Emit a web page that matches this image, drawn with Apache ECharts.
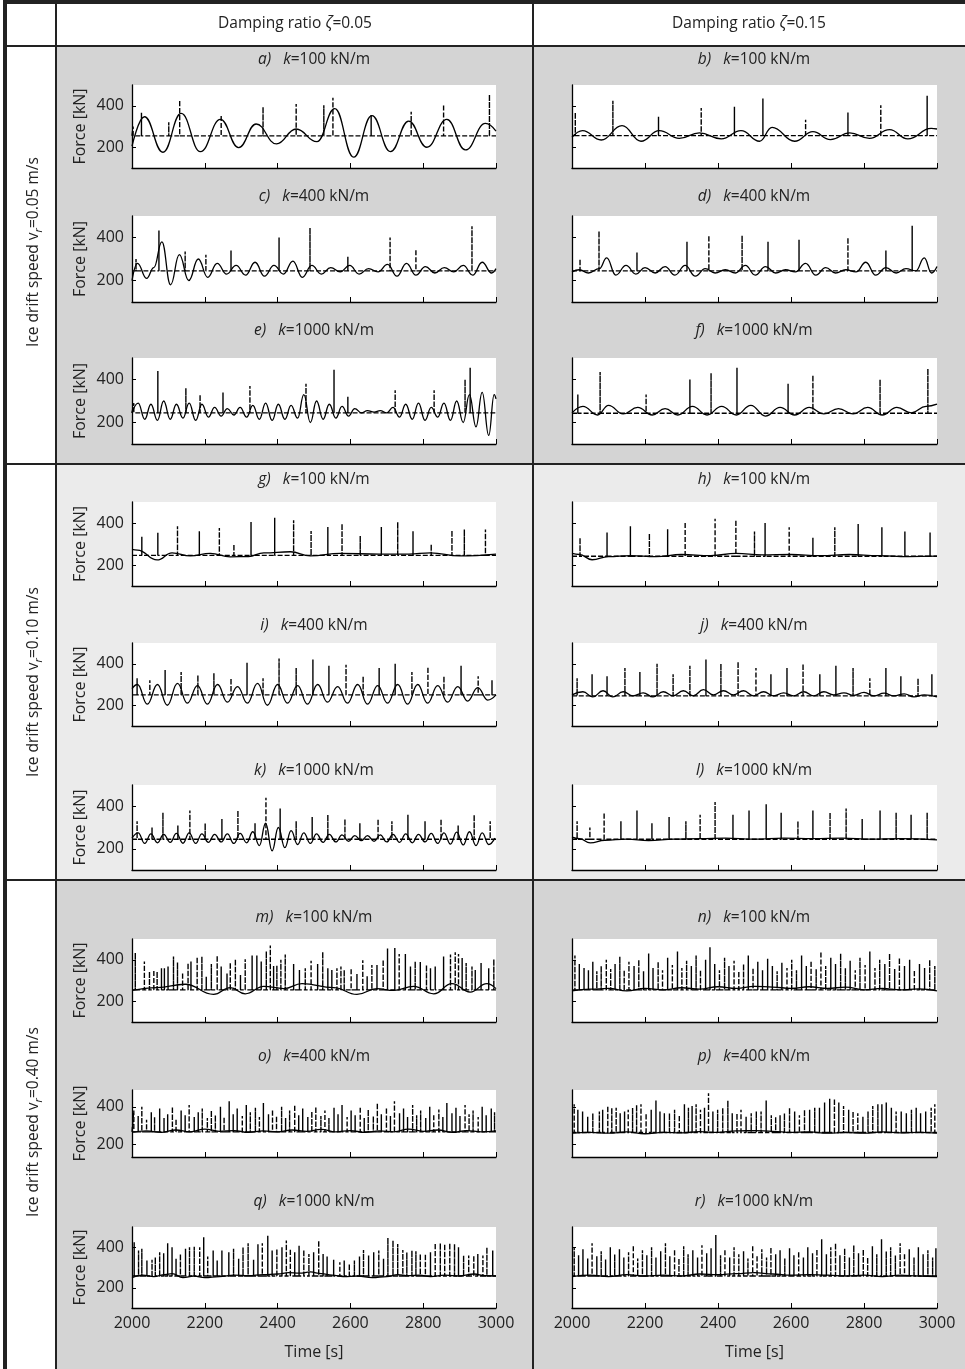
<!DOCTYPE html>
<html>
<head>
<meta charset="utf-8">
<script src="https://cdn.jsdelivr.net/npm/echarts@6/dist/echarts.min.js"></script>
<style>
html, body { margin: 0; padding: 0; background: #fff; }
#chart { width: 965px; height: 1369px; }
</style>
</head>
<body>
<div id="chart"></div>
<script>
// ---- data: [time s, force kN] ----
var xTicks = [2000, 2200, 2400, 2600, 2800, 3000];
var yTicks = [200, 400];
var stiffness = [100, 400, 1000];
var damping = ['0.05', '0.15'];
var drift = ['0.05', '0.10', '0.40'];

// row v=0.05
var solidA = [[2000,205],[2034,347],[2085,176],[2135,363],[2188,179],[2243,334],[2293,198],[2341,312],[2397,216],[2451,288],[2508,227],[2557,386],[2609,152],[2659,352],[2710,179],[2760,326],[2810,200],[2865,334],[2916,187],[2971,315],[3000,278]];
var spikeA = [[2003,300],[2026,366],[2101,320],[2131,427],[2245,355],[2360,395],[2451,408],[2527,403],[2552,438],[2657,355],[2767,371],[2856,406],[2982,454]];
var baseA = 255;
var solidB = [[2000,248],[2029,280],[2080,235],[2137,304],[2189,229],[2239,280],[2294,243],[2349,269],[2409,240],[2463,280],[2514,229],[2548,296],[2610,229],[2660,275],[2708,237],[2761,269],[2815,243],[2870,285],[2920,240],[2984,291],[3000,288]];
var spikeB = [[2009,368],[2112,424],[2237,347],[2354,389],[2445,395],[2523,435],[2640,333],[2756,368],[2846,402],[2973,448]];
var baseB = 256;
var solidC = [[2000,200],[2015,280],[2040,210],[2060,260],[2082,380],[2106,180],[2130,320],[2156,200],[2182,300],[2208,215],[2234,280],[2260,230],[2286,270],[2312,225],[2338,285],[2364,220],[2390,270],[2416,230],[2442,290],[2468,215],[2494,270],[2520,230],[2546,260],[2572,240],[2598,270],[2624,230],[2650,255],[2676,240],[2702,275],[2728,220],[2754,280],[2780,225],[2806,265],[2832,235],[2858,260],[2884,240],[2910,270],[2936,225],[2962,285],[2988,235],[3000,255]];
var spikeC = [[2011,300],[2074,433],[2146,335],[2203,320],[2272,340],[2404,400],[2489,445],[2593,310],[2709,400],[2780,345],[2934,452]];
var baseC = 245;
var solidD = [[2000,240],[2020,250],[2045,235],[2075,255],[2095,305],[2120,225],[2148,270],[2175,230],[2200,260],[2228,235],[2255,265],[2282,225],[2310,270],[2338,220],[2365,255],[2392,235],[2420,250],[2448,235],[2475,270],[2502,225],[2530,265],[2558,235],[2585,250],[2612,240],[2640,280],[2668,225],[2695,260],[2722,235],[2750,250],[2778,240],[2805,285],[2832,225],[2860,260],[2888,235],[2915,255],[2942,245],[2965,305],[2985,235],[3000,265]];
var spikeD = [[2022,300],[2074,430],[2178,330],[2315,380],[2375,410],[2466,410],[2537,380],[2622,390],[2756,400],[2860,340],[2932,455]];
var baseD = 245;
var solidE = [[2000,245],[2017,290],[2035,215],[2052,285],[2070,210],[2087,300],[2105,215],[2122,285],[2140,220],[2157,290],[2175,210],[2192,285],[2210,225],[2227,270],[2245,230],[2262,265],[2280,235],[2297,270],[2315,225],[2332,280],[2350,215],[2367,290],[2385,210],[2402,285],[2420,215],[2437,280],[2455,220],[2472,330],[2490,200],[2507,300],[2525,215],[2542,285],[2560,220],[2577,275],[2595,230],[2612,265],[2630,245],[2647,255],[2665,248],[2682,255],[2700,245],[2717,270],[2735,225],[2752,285],[2770,215],[2787,290],[2805,210],[2822,270],[2840,225],[2857,290],[2875,210],[2892,300],[2910,200],[2927,330],[2945,180],[2962,340],[2980,140],[2995,330],[3000,310]];
var spikeE = [[2005,290],[2071,440],[2148,360],[2187,330],[2250,340],[2324,370],[2478,380],[2555,445],[2593,320],[2723,350],[2830,350],[2915,400],[2929,455]];
var baseE = 245;
var solidF = [[2000,245],[2030,275],[2070,235],[2100,280],[2140,240],[2180,270],[2220,235],[2255,265],[2290,235],[2330,275],[2370,235],[2410,275],[2450,235],[2490,280],[2530,230],[2570,270],[2610,235],[2650,270],[2690,240],[2730,265],[2770,240],[2810,270],[2850,235],[2890,270],[2930,245],[2970,275],[3000,285]];
var spikeF = [[2016,330],[2077,435],[2203,330],[2323,400],[2381,430],[2452,455],[2592,380],[2660,420],[2844,400],[2975,450]];
var baseF = 243;

// row v=0.10
var solidG = [[2000,274],[2015,271],[2069,224],[2110,258],[2160,243],[2215,255],[2270,239],[2320,240],[2362,258],[2435,263],[2490,243],[2572,255],[2680,252],[2760,252],[2820,258],[2900,243],[3000,252]];
var spikeG = [[2027,334],[2071,354],[2125,384],[2185,361],[2240,376],[2280,299],[2327,405],[2392,425],[2444,413],[2492,362],[2538,381],[2577,397],[2627,339],[2685,381],[2730,405],[2772,361],[2822,299],[2879,365],[2913,370],[2971,369]];
var baseG = 246;
var solidH = [[2000,255],[2020,250],[2055,225],[2100,240],[2160,245],[2230,240],[2300,250],[2380,245],[2450,255],[2520,248],[2600,250],[2680,245],[2760,250],[2840,245],[2920,240],[3000,242]];
var spikeH = [[2022,330],[2096,355],[2160,385],[2212,350],[2262,370],[2310,405],[2392,420],[2449,415],[2500,360],[2529,400],[2595,380],[2660,330],[2720,380],[2784,395],[2849,380],[2912,360],[2981,355]];
var baseH = 242;
var solidI = [[2000,280],[2015,300],[2042,205],[2070,300],[2097,200],[2125,305],[2152,210],[2180,295],[2207,205],[2235,300],[2262,215],[2290,290],[2317,210],[2345,305],[2372,200],[2400,300],[2427,210],[2455,295],[2482,205],[2510,300],[2537,215],[2565,290],[2592,210],[2620,300],[2647,205],[2675,295],[2702,210],[2730,300],[2757,205],[2785,300],[2812,210],[2840,295],[2867,215],[2895,290],[2922,220],[2950,285],[2977,225],[3000,250]];
var spikeI = [[2014,330],[2049,320],[2091,370],[2135,360],[2181,345],[2225,355],[2272,330],[2316,405],[2360,330],[2404,425],[2451,380],[2497,420],[2541,390],[2588,395],[2635,340],[2679,380],[2723,400],[2769,360],[2813,385],[2857,340],[2904,390],[2951,340],[2989,320]];
var baseI = 250;
var solidJ = [[2000,250],[2030,265],[2057,240],[2085,270],[2112,240],[2140,265],[2167,245],[2195,260],[2222,240],[2250,265],[2277,245],[2305,270],[2332,245],[2360,275],[2387,250],[2415,270],[2442,250],[2470,270],[2497,245],[2525,265],[2552,245],[2580,260],[2607,245],[2635,265],[2662,245],[2690,265],[2717,250],[2745,260],[2772,248],[2800,262],[2827,245],[2855,258],[2882,245],[2910,255],[2937,240],[2965,250],[3000,240]];
var spikeJ = [[2014,330],[2055,350],[2096,340],[2145,380],[2186,360],[2233,400],[2277,350],[2323,390],[2367,420],[2408,400],[2455,410],[2504,380],[2545,350],[2589,380],[2633,400],[2679,350],[2723,390],[2770,380],[2816,330],[2860,380],[2901,340],[2948,330],[2986,350]];
var baseJ = 245;
var solidK = [[2000,250],[2017,275],[2035,225],[2052,270],[2070,228],[2087,268],[2105,230],[2122,272],[2140,226],[2157,275],[2175,225],[2192,270],[2210,230],[2227,268],[2245,232],[2262,270],[2280,225],[2297,272],[2315,228],[2332,280],[2350,215],[2367,320],[2385,190],[2402,300],[2420,205],[2437,285],[2455,220],[2472,275],[2490,225],[2507,270],[2525,230],[2542,268],[2560,232],[2577,265],[2595,235],[2612,262],[2630,238],[2647,262],[2665,235],[2682,265],[2700,232],[2717,268],[2735,230],[2752,270],[2770,228],[2787,268],[2805,232],[2822,272],[2840,225],[2857,275],[2875,222],[2892,278],[2910,218],[2927,280],[2945,215],[2962,275],[2980,220],[2997,250]];
var spikeK = [[2014,330],[2055,300],[2085,370],[2126,310],[2159,380],[2201,320],[2247,340],[2291,380],[2338,320],[2368,440],[2407,390],[2451,330],[2495,350],[2538,360],[2585,340],[2626,320],[2676,340],[2714,330],[2758,360],[2805,330],[2849,340],[2896,310],[2940,360],[2984,330]];
var baseK = 245;
var solidL = [[2000,255],[2020,248],[2050,228],[2090,240],[2150,245],[2210,238],[2280,245],[2350,248],[2420,250],[2500,245],[2580,250],[2660,248],[2740,250],[2820,245],[2900,248],[3000,242]];
var spikeL = [[2014,330],[2049,300],[2088,370],[2134,330],[2178,380],[2219,320],[2266,350],[2312,330],[2351,360],[2392,420],[2441,360],[2485,380],[2532,410],[2573,370],[2619,330],[2660,380],[2707,370],[2751,390],[2795,340],[2844,380],[2888,370],[2929,360],[2973,370]];
var baseL = 245;

// row v=0.40
var solidM = [[2000,252],[2069,266],[2146,282],[2224,233],[2270,266],[2311,236],[2362,272],[2417,261],[2467,285],[2554,266],[2618,233],[2673,261],[2719,252],[2774,272],[2829,236],[2879,285],[2929,244],[2975,285],[3000,261]];
var spikeM = [[2009,433],[2034,392],[2048,343],[2060,351],[2069,343],[2081,359],[2089,359],[2099,367],[2114,416],[2125,387],[2139,338],[2154,384],[2162,392],[2179,413],[2192,416],[2204,318],[2218,379],[2234,420],[2245,367],[2261,334],[2270,387],[2284,403],[2298,326],[2311,403],[2330,420],[2343,421],[2355,392],[2369,441],[2380,469],[2389,370],[2398,372],[2409,400],[2421,425],[2444,379],[2460,351],[2476,359],[2492,395],[2510,379],[2524,438],[2538,359],[2549,351],[2563,359],[2574,367],[2583,351],[2602,359],[2618,331],[2634,397],[2646,321],[2659,375],[2673,375],[2690,400],[2702,454],[2722,457],[2734,428],[2751,428],[2765,367],[2778,392],[2792,389],[2809,375],[2820,359],[2833,367],[2856,416],[2875,425],[2888,436],[2897,428],[2907,408],[2918,384],[2934,367],[2943,351],[2959,384],[2980,359],[2994,403]];
var baseM = 255;
var solidN = [[2000,250],[2050,258],[2100,262],[2150,250],[2200,262],[2250,255],[2300,265],[2350,258],[2400,270],[2450,262],[2500,272],[2550,268],[2600,262],[2650,270],[2700,262],[2750,268],[2800,255],[2850,262],[2900,255],[2950,260],[3000,250]];
var spikeN = [[2008,420],[2020,380],[2033,360],[2045,350],[2057,390],[2068,345],[2080,370],[2094,400],[2106,355],[2118,380],[2131,415],[2143,350],[2156,390],[2170,370],[2183,400],[2196,345],[2210,430],[2222,360],[2236,390],[2248,350],[2262,410],[2275,375],[2289,440],[2301,360],[2314,395],[2327,370],[2340,420],[2352,350],[2366,400],[2378,460],[2391,380],[2404,350],[2418,410],[2430,370],[2444,395],[2457,345],[2470,380],[2483,420],[2496,360],[2509,390],[2522,350],[2536,405],[2549,370],[2562,345],[2575,385],[2589,360],[2602,400],[2615,350],[2629,420],[2642,370],[2655,395],[2669,355],[2682,440],[2695,370],[2709,410],[2722,380],[2736,430],[2749,360],[2762,395],[2776,350],[2789,410],[2803,375],[2816,440],[2830,360],[2843,400],[2857,380],[2870,430],[2884,355],[2897,410],[2911,370],[2925,400],[2938,350],[2952,380],[2966,360],[2980,400],[2994,370]];
var baseN = 255;
var solidO = [[2000,262],[2040,270],[2080,262],[2120,275],[2160,265],[2200,280],[2240,268],[2280,272],[2320,262],[2360,270],[2400,265],[2440,275],[2480,268],[2520,278],[2560,265],[2600,272],[2640,262],[2680,270],[2720,265],[2760,280],[2800,268],[2840,275],[2880,262],[2920,272],[2960,265],[3000,270]];
var spikeO = [[2005,380],[2017,350],[2027,400],[2040,330],[2053,370],[2062,345],[2076,390],[2088,340],[2098,360],[2111,400],[2121,335],[2135,380],[2146,355],[2157,410],[2171,345],[2182,370],[2193,390],[2207,340],[2218,380],[2229,355],[2243,400],[2253,345],[2267,430],[2278,360],[2289,390],[2303,350],[2314,410],[2325,370],[2339,395],[2350,345],[2361,420],[2375,360],[2386,385],[2397,350],[2411,400],[2422,340],[2433,380],[2447,410],[2458,355],[2469,390],[2483,345],[2494,375],[2505,400],[2519,350],[2530,380],[2541,340],[2555,395],[2566,360],[2577,410],[2591,345],[2602,380],[2613,355],[2627,400],[2638,340],[2649,385],[2663,350],[2674,420],[2685,360],[2699,395],[2710,350],[2721,430],[2735,365],[2746,390],[2757,345],[2771,410],[2782,355],[2793,380],[2807,340],[2818,400],[2829,360],[2843,385],[2854,345],[2865,420],[2879,365],[2890,395],[2901,350],[2915,410],[2926,360],[2937,380],[2951,345],[2962,400],[2973,355],[2987,390],[2996,370]];
var baseO = 265;
var solidP = [[2000,258],[2050,262],[2100,258],[2150,265],[2200,255],[2250,262],[2300,260],[2350,266],[2400,262],[2450,270],[2500,272],[2550,268],[2600,262],[2650,265],[2700,258],[2750,262],[2800,258],[2850,265],[2900,260],[2950,262],[3000,258]];
var spikeP = [[2006,414],[2016,384],[2029,375],[2043,346],[2057,365],[2075,375],[2084,384],[2098,404],[2109,394],[2121,394],[2132,365],[2144,375],[2154,384],[2166,394],[2177,410],[2189,414],[2203,365],[2217,384],[2230,433],[2241,375],[2253,365],[2267,365],[2281,384],[2294,355],[2308,414],[2319,394],[2329,404],[2340,414],[2352,384],[2363,394],[2374,472],[2386,375],[2399,384],[2413,394],[2427,433],[2439,365],[2452,365],[2463,384],[2477,346],[2491,365],[2505,375],[2518,375],[2532,433],[2546,355],[2558,346],[2570,355],[2582,365],[2596,394],[2610,375],[2623,355],[2637,384],[2651,384],[2665,394],[2678,394],[2692,423],[2706,443],[2719,443],[2731,423],[2744,404],[2758,384],[2770,375],[2783,365],[2797,346],[2811,375],[2824,404],[2838,414],[2849,414],[2861,423],[2875,394],[2888,375],[2902,375],[2916,365],[2930,384],[2943,394],[2955,365],[2969,375],[2984,394],[2994,414]];
var baseP = 262;
var solidQ = [[2000,250],[2030,262],[2060,255],[2090,265],[2110,270],[2140,250],[2170,258],[2200,250],[2240,255],[2280,262],[2320,260],[2360,265],[2400,268],[2430,275],[2460,272],[2490,278],[2520,270],[2550,262],[2580,255],[2620,258],[2660,250],[2700,255],[2730,265],[2760,260],[2790,262],[2820,255],[2860,262],[2900,258],[2940,268],[2970,260],[3000,258]];
var spikeQ = [[2006,425],[2018,384],[2027,392],[2041,334],[2055,338],[2064,351],[2076,375],[2087,370],[2098,420],[2110,400],[2121,343],[2133,367],[2147,392],[2158,400],[2171,403],[2186,400],[2197,449],[2208,354],[2223,384],[2234,334],[2247,384],[2266,375],[2279,392],[2293,343],[2305,400],[2319,420],[2334,338],[2346,415],[2358,420],[2373,457],[2385,384],[2398,392],[2412,400],[2424,433],[2435,392],[2447,375],[2459,408],[2472,387],[2486,367],[2499,375],[2513,433],[2525,367],[2536,354],[2554,338],[2571,326],[2583,334],[2597,318],[2611,334],[2625,354],[2636,387],[2650,359],[2664,375],[2678,384],[2691,343],[2703,446],[2717,433],[2730,416],[2744,387],[2755,375],[2769,384],[2780,380],[2792,367],[2806,367],[2820,375],[2833,420],[2847,420],[2859,416],[2873,420],[2886,416],[2897,400],[2911,359],[2925,359],[2939,359],[2950,367],[2964,359],[2975,400],[2991,384]];
var baseQ = 258;
var solidR = [[2000,255],[2050,262],[2100,255],[2150,265],[2200,258],[2250,262],[2300,258],[2350,268],[2400,265],[2450,270],[2500,275],[2550,268],[2600,262],[2650,265],[2700,262],[2750,258],[2800,262],[2850,255],[2900,262],[2950,258],[3000,255]];
var spikeR = [[2006,400],[2018,360],[2030,390],[2043,345],[2055,420],[2068,355],[2080,380],[2092,340],[2105,400],[2117,365],[2130,390],[2142,350],[2155,375],[2168,410],[2180,345],[2193,385],[2205,360],[2218,400],[2230,350],[2243,380],[2256,420],[2268,355],[2281,390],[2293,345],[2306,405],[2318,365],[2331,385],[2344,350],[2356,410],[2369,370],[2381,395],[2394,460],[2407,360],[2419,390],[2432,350],[2444,400],[2457,365],[2470,380],[2482,345],[2495,410],[2507,360],[2520,390],[2533,350],[2545,400],[2558,365],[2570,385],[2583,345],[2596,395],[2608,360],[2621,380],[2634,350],[2646,400],[2659,370],[2671,390],[2684,440],[2697,365],[2709,400],[2722,420],[2734,360],[2747,395],[2760,350],[2772,410],[2785,370],[2798,390],[2810,350],[2823,405],[2835,365],[2848,440],[2861,380],[2873,400],[2886,360],[2899,420],[2911,370],[2924,390],[2937,350],[2949,400],[2962,365],[2975,385],[2988,350],[2997,395]];
var baseR = 258;

var solids = [solidA, solidB, solidC, solidD, solidE, solidF, solidG, solidH, solidI, solidJ, solidK, solidL, solidM, solidN, solidO, solidP, solidQ, solidR];
var spikes = [spikeA, spikeB, spikeC, spikeD, spikeE, spikeF, spikeG, spikeH, spikeI, spikeJ, spikeK, spikeL, spikeM, spikeN, spikeO, spikeP, spikeQ, spikeR];
var bases = [baseA, baseB, baseC, baseD, baseE, baseF, baseG, baseH, baseI, baseJ, baseK, baseL, baseM, baseN, baseO, baseP, baseQ, baseR];
var letters = 'abcdefghijklmnopqr';

// ---- layout ----
var FONT = '"Open Sans", "Noto Sans", sans-serif';
var colLeft = [132, 572];
var colWidth = [364, 365];
var colCenter = [314, 754];
var rowTop = [85, 216, 358, 502, 643, 785, 939, 1090, 1227];
var rowH = [83, 86, 86, 84, 83, 85, 83, 67, 81];
var titleY = [60, 197, 331, 480, 626, 771, 918, 1057, 1202];

function spikeLine(list, base) {
    var d = [[2000, base]];
    list.forEach(function (s) {
        d.push([s[0], base], [s[0], s[1]], [s[0], base]);
    });
    d.push([3000, base]);
    return d;
}

var grids = [], xAxes = [], yAxes = [], series = [], graphics = [];

// table backgrounds and lines
graphics.push(
    { type: 'rect', z: -10, shape: { x: 57, y: 47, width: 908, height: 417 }, style: { fill: '#d4d4d4' } },
    { type: 'rect', z: -10, shape: { x: 57, y: 464, width: 908, height: 416 }, style: { fill: '#ebebeb' } },
    { type: 'rect', z: -10, shape: { x: 57, y: 880, width: 908, height: 489 }, style: { fill: '#d4d4d4' } }
);
function hline(y, w) { return { type: 'line', z: 50, shape: { x1: 3, y1: y, x2: 965, y2: y }, style: { stroke: '#222', lineWidth: w } }; }
function vline(x, w) { return { type: 'line', z: 50, shape: { x1: x, y1: 0, x2: x, y2: 1369 }, style: { stroke: '#222', lineWidth: w } }; }
graphics.push(hline(2, 4), hline(46, 2), hline(464, 2), hline(880, 2), vline(5, 4), vline(56, 2), vline(533, 2));

var baseRich = {
    n: { fontFamily: FONT, fontSize: 15.5, fill: '#222' },
    i: { fontFamily: FONT, fontSize: 15.5, fill: '#222', fontStyle: 'italic' },
    s: { fontFamily: FONT, fontSize: 11, fill: '#222', fontStyle: 'italic', padding: [10, 0, 0, 0] }
};

// column headers
damping.forEach(function (z, c) {
    graphics.push({
        type: 'text', x: c === 0 ? 295 : 749, y: 24, z: 60,
        style: { text: '{n|Damping ratio }{i|ζ}{n|=' + z + '}', rich: baseRich, align: 'center', verticalAlign: 'middle' }
    });
});
// row headers
var rowLabelY = [252, 682, 1122];
drift.forEach(function (v, r) {
    graphics.push({
        type: 'text', x: 34, y: rowLabelY[r], rotation: Math.PI / 2, z: 60,
        style: { text: '{n|Ice drift speed v}{s|r}{n|=' + v + ' m/s}', rich: baseRich, align: 'center', verticalAlign: 'middle' }
    });
});

for (var p = 0; p < 18; p++) {
    var row = Math.floor(p / 2), col = p % 2;
    var kVal = stiffness[row % 3];
    var last = row === 8;
    var squashed = row === 7;
    grids.push({
        left: colLeft[col], top: rowTop[row], width: colWidth[col], height: rowH[row],
        show: true, backgroundColor: '#fff', borderWidth: 0
    });
    xAxes.push({
        type: 'value', gridIndex: p, min: 2000, max: 3000, interval: 200,
        axisLine: { lineStyle: { color: '#000', width: 1.3 } },
        axisTick: { inside: true, length: 5, lineStyle: { color: '#000', width: 1 } },
        axisLabel: { show: last, margin: 7, color: '#222', fontFamily: FONT, fontSize: 16,
            formatter: function (v) { return String(v); } },
        splitLine: { show: false },
        name: last ? 'Time [s]' : '', nameLocation: 'middle', nameGap: 36,
        nameTextStyle: { color: '#222', fontFamily: FONT, fontSize: 16 }
    });
    yAxes.push({
        type: 'value', gridIndex: p, min: squashed ? 130 : 100, max: squashed ? 490 : 500,
        axisLine: { show: true, lineStyle: { color: '#000', width: 1.3 } },
        axisTick: { show: true, inside: true, length: 4, customValues: yTicks, lineStyle: { color: '#000', width: 1 } },
        axisLabel: { show: col === 0, customValues: yTicks, margin: 8, color: '#222', fontFamily: FONT, fontSize: 16 },
        splitLine: { show: false },
        name: col === 0 ? 'Force [kN]' : '', nameLocation: 'middle', nameGap: 44,
        nameTextStyle: { color: '#222', fontFamily: FONT, fontSize: 16 }
    });
    series.push({
        type: 'line', xAxisIndex: p, yAxisIndex: p, data: spikeLine(spikes[p], bases[p]),
        showSymbol: false, silent: true, z: 2,
        lineStyle: { color: '#000', width: 1.4, type: [5, 2] }
    });
    series.push({
        type: 'line', xAxisIndex: p, yAxisIndex: p, data: solids[p],
        smooth: 0.45, smoothMonotone: 'x', showSymbol: false, silent: true, z: 3,
        lineStyle: { color: '#000', width: 1.3 }
    });
    graphics.push({
        type: 'text', x: colCenter[col], y: titleY[row], z: 60,
        style: { text: '{i|' + letters[p] + ')}{n|   }{i|k}{n|=' + kVal + ' kN/m}', rich: baseRich, align: 'center', verticalAlign: 'middle' }
    });
}

var chart = echarts.init(document.getElementById('chart'));
chart.setOption({
    animation: false,
    backgroundColor: '#fff',
    grid: grids,
    xAxis: xAxes,
    yAxis: yAxes,
    series: series,
    graphic: { elements: graphics }
});
</script>
</body>
</html>
